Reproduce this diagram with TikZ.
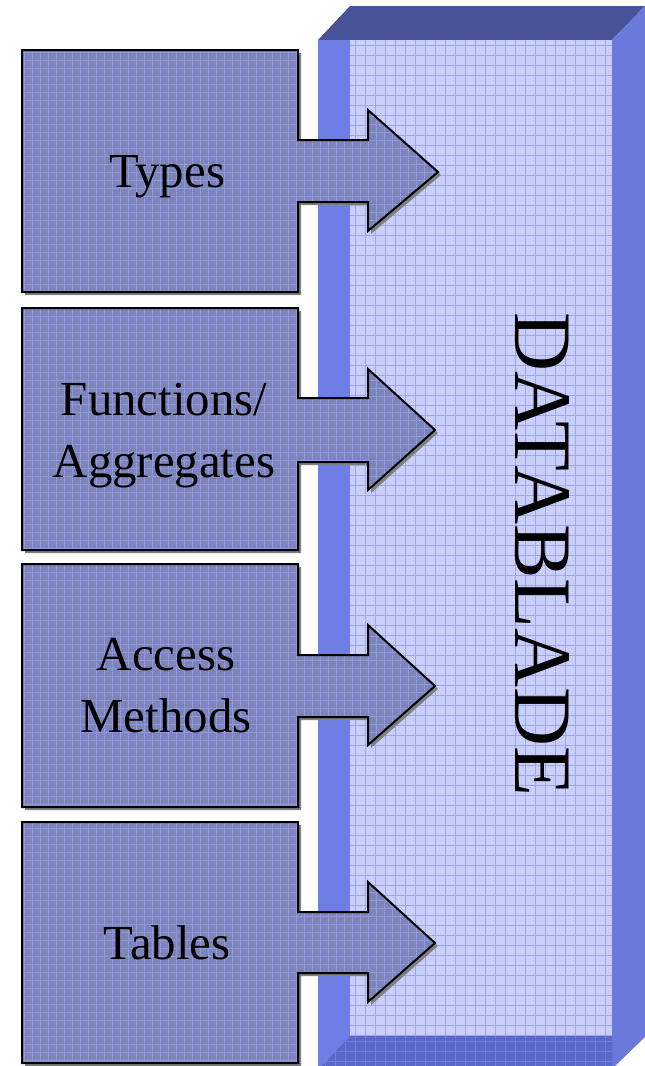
\documentclass[tikz,border=0pt]{standalone}
\usepackage{fontspec}
\setmainfont{Liberation Serif}
\definecolor{boxc}{RGB}{126,132,184}
\definecolor{boxgrid}{RGB}{140,152,226}
\definecolor{wallc}{RGB}{202,207,250}
\definecolor{wallgrid}{RGB}{158,166,240}
\definecolor{bandc}{RGB}{110,126,230}
\definecolor{topc}{RGB}{72,82,152}
\definecolor{sidec}{RGB}{107,121,220}
\definecolor{floorc}{RGB}{92,104,200}
\definecolor{shadc}{RGB}{128,128,128}
\newcommand\boxarrow[8]{%
  % #1 top, #2 bottom, #3 shaft top, #4 shaft bottom, #5 head top, #6 head bottom, #7 tip x, #8 tip y
  \fill[shadc,shift={(3,3)}] (22,#1) -- (298,#1) -- (298,#3) -- (368,#3) -- (368,#5) -- (#7,#8) -- (368,#6) -- (368,#4) -- (298,#4) -- (298,#2) -- (22,#2) -- cycle;
  \begin{scope}
    \clip (22,#1) -- (298,#1) -- (298,#3) -- (368,#3) -- (368,#5) -- (#7,#8) -- (368,#6) -- (368,#4) -- (298,#4) -- (298,#2) -- (22,#2) -- cycle;
    \fill[boxc] (20,#1) rectangle (440,#2);
    \foreach \gx in {24,32,...,440} {\draw[boxgrid,line width=0.6bp] (\gx,#1) -- (\gx,#2);}
    \foreach \gy in {4,12,...,1066} {\draw[boxgrid,line width=0.6bp] (20,\gy) -- (440,\gy);}
  \end{scope}
  \draw[outl] (22,#1) -- (298,#1) -- (298,#3) -- (368,#3) -- (368,#5) -- (#7,#8) -- (368,#6) -- (368,#4) -- (298,#4) -- (298,#2) -- (22,#2) -- cycle;
}
\newcommand\twolines[2]{\vtop{\baselineskip=62bp\lineskip=0pt\halign{\hfil##\hfil\cr #1\cr #2\cr}}}
\begin{document}
\begin{tikzpicture}[x=1bp,y=-1bp,
  outl/.style={draw=black,line width=2bp,line join=miter},
  lbl/.style={font=\fontsize{49}{62}\selectfont,inner sep=0pt,anchor=base}]
\useasboundingbox (0,0) rectangle (645,1066);
% block
\fill[topc] (318,40) -- (350,6) -- (645,6) -- (612,40) -- cycle;
\fill[sidec] (612,40) -- (645,6) -- (645,1037) -- (615,1066) -- (612,1066) -- cycle;
\fill[bandc] (318,40) rectangle (350,1066);
\fill[wallc] (350,40) rectangle (612,1036);
\begin{scope}
  \clip (350,40) rectangle (612,1036);
  \foreach \gx in {355,365,...,612} {\draw[wallgrid,line width=0.6bp] (\gx,40) -- (\gx,1036);}
  \foreach \gy in {45,55,...,1036} {\draw[wallgrid,line width=0.6bp] (350,\gy) -- (612,\gy);}
\end{scope}
\begin{scope}
  \clip (350,1036) -- (612,1036) -- (612,1066) -- (322,1066) -- cycle;
  \fill[floorc] (320,1030) rectangle (615,1066);
  \foreach \gx in {325,335,...,612} {\draw[bandc,line width=0.6bp] (\gx,1036) -- (\gx,1066);}
  \foreach \gy in {1041,1051,1061} {\draw[bandc,line width=0.6bp] (320,\gy) -- (612,\gy);}
\end{scope}
% boxes with arrows
\boxarrow{50}{292}{140}{202}{110}{231}{438}{172}
\boxarrow{308}{550}{398}{462}{369}{490}{435}{430}
\boxarrow{564}{807}{655}{717}{625}{745}{435}{686}
\boxarrow{822}{1063}{912}{973}{882}{1002}{435}{943}
% labels
\node[lbl] (types) at (167,187) {Types};
\node[lbl] (funcs) at (164,415) {\twolines{Functions/}{Aggregates}};
\node[lbl] (access) at (166,670) {\twolines{Access}{Methods}};
\node[lbl] (tables) at (167,959) {Tables};
\node[rotate=-90,font=\fontsize{82}{84}\selectfont,inner sep=0pt,text depth=0pt] (db) at (542.5,554.5) {DATABLADE};
\end{tikzpicture}
\end{document}
